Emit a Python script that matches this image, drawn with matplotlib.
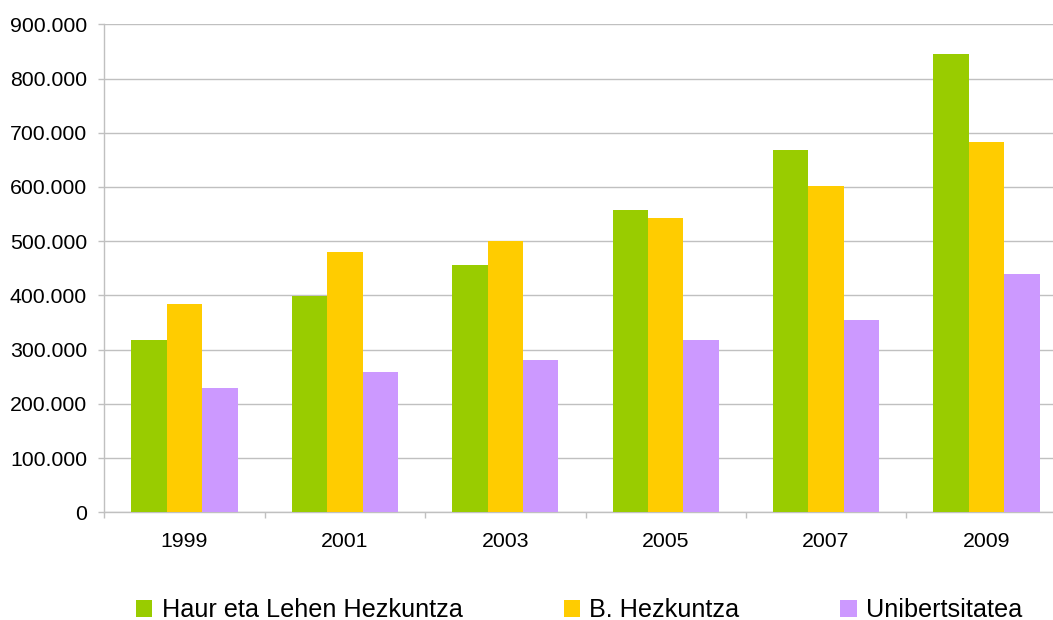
import matplotlib

matplotlib.use("Agg")
import matplotlib.pyplot as plt
import numpy as np
from matplotlib.ticker import FuncFormatter, FixedLocator

plt.rcParams["font.family"] = ["Liberation Sans", "DejaVu Sans"]

years = ["1999", "2001", "2003", "2005", "2007", "2009"]
series_names = ["Haur eta Lehen Hezkuntza", "B. Hezkuntza", "Unibertsitatea"]
haur_lehen = [317500, 398600, 456500, 557000, 668000, 845000]
b_hezkuntza = [384000, 479600, 500000, 543000, 601000, 682500]
unibertsitatea = [229000, 258000, 280000, 317500, 354000, 439000]
colors = ["#99CC00", "#FFCC00", "#CC99FF"]

W, H = 1053, 620
fig = plt.figure(figsize=(W / 100, H / 100), dpi=100)
# plot area runs a bit past the right edge, as in the original crop
ax = fig.add_axes([104.3 / W, 1 - 512.3 / H, 962.4 / W, 488 / H])

x = np.arange(len(years))
width = 0.221
for i, (vals, name, col) in enumerate(zip([haur_lehen, b_hezkuntza, unibertsitatea], series_names, colors)):
    ax.bar(x + (i - 1) * width, vals, width=width, color=col, label=name, zorder=3, linewidth=0)

ax.set_xlim(-0.5, len(years) - 0.5)
ax.set_ylim(0, 900000)
ax.set_yticks(np.arange(0, 900001, 100000))
ax.yaxis.set_major_formatter(FuncFormatter(lambda v, _: f"{int(v):,}".replace(",", ".")))
ax.yaxis.grid(True, color="#c0c0c0", linewidth=1.0, zorder=0)
ax.set_axisbelow(True)

ax.set_xticks(x)
ax.set_xticklabels(years)
ax.xaxis.set_minor_locator(FixedLocator(np.arange(-0.5, len(years), 1.0)))
ax.tick_params(axis="x", which="major", length=0, pad=14, labelsize=15.3)
ax.tick_params(axis="x", which="minor", length=4, color="#c0c0c0", width=1.0)
ax.tick_params(axis="y", length=4, color="#c0c0c0", width=1.0, pad=8.4, labelsize=15.3)

for side in ["top", "right"]:
    ax.spines[side].set_visible(False)
for side in ["left", "bottom"]:
    ax.spines[side].set_color("#c0c0c0")
    ax.spines[side].set_linewidth(1.0)

handles, labels = ax.get_legend_handles_labels()
fig.legend(handles, labels, loc="center left", bbox_to_anchor=(136 / W, 1 - 610 / H),
           ncol=3, frameon=False, fontsize=18.2, borderpad=0, borderaxespad=0,
           handlelength=0.65, handleheight=0.65, handletextpad=0.36, columnspacing=4.0)

fig.savefig("out.png", dpi=100)
